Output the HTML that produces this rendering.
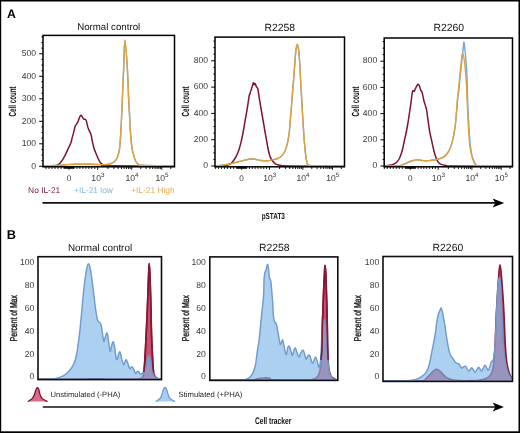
<!DOCTYPE html>
<html><head><meta charset="utf-8"><style>
html,body{margin:0;padding:0;background:#fff;}
body{width:520px;height:433px;overflow:hidden;position:relative;font-family:"Liberation Sans",sans-serif;}
svg{will-change:transform;}
</style></head><body>
<svg width="520" height="433" viewBox="0 0 520 433" style="position:absolute;left:0;top:0" text-rendering="geometricPrecision">
<rect x="0" y="0" width="1.2" height="433" fill="#000"/>
<rect x="0" y="0" width="520" height="1.5" fill="#000"/>
<rect x="518.5" y="0" width="1.5" height="433" fill="#000"/>
<rect x="0" y="431.3" width="520" height="1.7" fill="#000"/>
<text x="6.9" y="17.6" font-family='"Liberation Sans", sans-serif' font-size="12.3" fill="#000" text-anchor="start" font-weight="bold" >A</text>
<text x="6.7" y="239.0" font-family='"Liberation Sans", sans-serif' font-size="12.8" fill="#000" text-anchor="start" font-weight="bold" >B</text>
<text x="108.7" y="29.9" font-family='"Liberation Sans", sans-serif' font-size="9.7" fill="#111" text-anchor="middle" font-weight="normal" >Normal control</text>
<line x1="39.2" y1="166.30" x2="43" y2="166.30" stroke="#000" stroke-width="1"/>
<text x="36.0" y="168.5" font-family='"Liberation Sans", sans-serif' font-size="8.6" fill="#3a3a3a" text-anchor="end" font-weight="normal" >0</text>
<line x1="41.4" y1="160.68" x2="43" y2="160.68" stroke="#000" stroke-width="1"/>
<line x1="41.4" y1="155.05" x2="43" y2="155.05" stroke="#000" stroke-width="1"/>
<line x1="41.4" y1="149.43" x2="43" y2="149.43" stroke="#000" stroke-width="1"/>
<line x1="39.2" y1="143.80" x2="43" y2="143.80" stroke="#000" stroke-width="1"/>
<text x="36.0" y="146.0" font-family='"Liberation Sans", sans-serif' font-size="8.6" fill="#3a3a3a" text-anchor="end" font-weight="normal" >100</text>
<line x1="41.4" y1="138.18" x2="43" y2="138.18" stroke="#000" stroke-width="1"/>
<line x1="41.4" y1="132.55" x2="43" y2="132.55" stroke="#000" stroke-width="1"/>
<line x1="41.4" y1="126.93" x2="43" y2="126.93" stroke="#000" stroke-width="1"/>
<line x1="39.2" y1="121.30" x2="43" y2="121.30" stroke="#000" stroke-width="1"/>
<text x="36.0" y="123.50000000000001" font-family='"Liberation Sans", sans-serif' font-size="8.6" fill="#3a3a3a" text-anchor="end" font-weight="normal" >200</text>
<line x1="41.4" y1="115.68" x2="43" y2="115.68" stroke="#000" stroke-width="1"/>
<line x1="41.4" y1="110.05" x2="43" y2="110.05" stroke="#000" stroke-width="1"/>
<line x1="41.4" y1="104.43" x2="43" y2="104.43" stroke="#000" stroke-width="1"/>
<line x1="39.2" y1="98.80" x2="43" y2="98.80" stroke="#000" stroke-width="1"/>
<text x="36.0" y="101.00000000000001" font-family='"Liberation Sans", sans-serif' font-size="8.6" fill="#3a3a3a" text-anchor="end" font-weight="normal" >300</text>
<line x1="41.4" y1="93.18" x2="43" y2="93.18" stroke="#000" stroke-width="1"/>
<line x1="41.4" y1="87.55" x2="43" y2="87.55" stroke="#000" stroke-width="1"/>
<line x1="41.4" y1="81.93" x2="43" y2="81.93" stroke="#000" stroke-width="1"/>
<line x1="39.2" y1="76.30" x2="43" y2="76.30" stroke="#000" stroke-width="1"/>
<text x="36.0" y="78.50000000000001" font-family='"Liberation Sans", sans-serif' font-size="8.6" fill="#3a3a3a" text-anchor="end" font-weight="normal" >400</text>
<line x1="41.4" y1="70.68" x2="43" y2="70.68" stroke="#000" stroke-width="1"/>
<line x1="41.4" y1="65.05" x2="43" y2="65.05" stroke="#000" stroke-width="1"/>
<line x1="41.4" y1="59.43" x2="43" y2="59.43" stroke="#000" stroke-width="1"/>
<line x1="39.2" y1="53.80" x2="43" y2="53.80" stroke="#000" stroke-width="1"/>
<text x="36.0" y="56.000000000000014" font-family='"Liberation Sans", sans-serif' font-size="8.6" fill="#3a3a3a" text-anchor="end" font-weight="normal" >500</text>
<line x1="41.4" y1="48.18" x2="43" y2="48.18" stroke="#000" stroke-width="1"/>
<line x1="41.4" y1="42.55" x2="43" y2="42.55" stroke="#000" stroke-width="1"/>
<line x1="41.4" y1="36.93" x2="43" y2="36.93" stroke="#000" stroke-width="1"/>
<g transform="translate(12.2,101.4) rotate(-90) scale(0.6,1)"><text x="0" y="3.64" font-family='"Liberation Sans", sans-serif' font-size="10.4" fill="#111" text-anchor="middle" font-weight="bold">Cell count</text></g>
<line x1="61.00" y1="166.8" x2="61.00" y2="169.00" stroke="#000" stroke-width="0.9"/>
<line x1="58.00" y1="166.8" x2="58.00" y2="169.00" stroke="#000" stroke-width="0.9"/>
<line x1="55.00" y1="166.8" x2="55.00" y2="169.00" stroke="#000" stroke-width="0.9"/>
<line x1="52.00" y1="166.8" x2="52.00" y2="169.00" stroke="#000" stroke-width="0.9"/>
<line x1="49.00" y1="166.8" x2="49.00" y2="169.00" stroke="#000" stroke-width="0.9"/>
<line x1="46.00" y1="166.8" x2="46.00" y2="169.00" stroke="#000" stroke-width="0.9"/>
<line x1="69.00" y1="166.8" x2="69.00" y2="169.80" stroke="#000" stroke-width="0.9"/>
<line x1="76.96" y1="166.8" x2="76.96" y2="169.00" stroke="#000" stroke-width="0.9"/>
<line x1="79.92" y1="166.8" x2="79.92" y2="169.00" stroke="#000" stroke-width="0.9"/>
<line x1="82.89" y1="166.8" x2="82.89" y2="169.00" stroke="#000" stroke-width="0.9"/>
<line x1="85.85" y1="166.8" x2="85.85" y2="169.00" stroke="#000" stroke-width="0.9"/>
<line x1="88.81" y1="166.8" x2="88.81" y2="169.00" stroke="#000" stroke-width="0.9"/>
<line x1="91.78" y1="166.8" x2="91.78" y2="169.00" stroke="#000" stroke-width="0.9"/>
<line x1="94.74" y1="166.8" x2="94.74" y2="169.00" stroke="#000" stroke-width="0.9"/>
<line x1="97.70" y1="166.8" x2="97.70" y2="169.80" stroke="#000" stroke-width="0.9"/>
<line x1="107.95" y1="166.8" x2="107.95" y2="169.00" stroke="#000" stroke-width="0.9"/>
<line x1="113.95" y1="166.8" x2="113.95" y2="169.00" stroke="#000" stroke-width="0.9"/>
<line x1="118.20" y1="166.8" x2="118.20" y2="169.00" stroke="#000" stroke-width="0.9"/>
<line x1="121.50" y1="166.8" x2="121.50" y2="169.00" stroke="#000" stroke-width="0.9"/>
<line x1="124.20" y1="166.8" x2="124.20" y2="169.00" stroke="#000" stroke-width="0.9"/>
<line x1="126.48" y1="166.8" x2="126.48" y2="169.00" stroke="#000" stroke-width="0.9"/>
<line x1="128.45" y1="166.8" x2="128.45" y2="169.00" stroke="#000" stroke-width="0.9"/>
<line x1="130.19" y1="166.8" x2="130.19" y2="169.00" stroke="#000" stroke-width="0.9"/>
<line x1="131.75" y1="166.8" x2="131.75" y2="169.80" stroke="#000" stroke-width="0.9"/>
<line x1="140.78" y1="166.8" x2="140.78" y2="169.00" stroke="#000" stroke-width="0.9"/>
<line x1="146.06" y1="166.8" x2="146.06" y2="169.00" stroke="#000" stroke-width="0.9"/>
<line x1="149.81" y1="166.8" x2="149.81" y2="169.00" stroke="#000" stroke-width="0.9"/>
<line x1="152.72" y1="166.8" x2="152.72" y2="169.00" stroke="#000" stroke-width="0.9"/>
<line x1="155.09" y1="166.8" x2="155.09" y2="169.00" stroke="#000" stroke-width="0.9"/>
<line x1="157.10" y1="166.8" x2="157.10" y2="169.00" stroke="#000" stroke-width="0.9"/>
<line x1="158.84" y1="166.8" x2="158.84" y2="169.00" stroke="#000" stroke-width="0.9"/>
<line x1="160.38" y1="166.8" x2="160.38" y2="169.00" stroke="#000" stroke-width="0.9"/>
<line x1="161.75" y1="166.8" x2="161.75" y2="169.80" stroke="#000" stroke-width="0.9"/>
<line x1="170.78" y1="166.8" x2="170.78" y2="169.00" stroke="#000" stroke-width="0.9"/>
<rect x="63.50" y="166.8" width="11" height="2.0" fill="#111"/>
<text x="69" y="180.6" font-family='"Liberation Sans", sans-serif' font-size="8.2" fill="#3a3a3a" text-anchor="middle" font-weight="normal" >0</text>
<text x="97.90" y="180.6" font-family='"Liberation Sans", sans-serif' font-size="8.6" fill="#3a3a3a" text-anchor="middle">10<tspan dy="-3.4" font-size="6.3">3</tspan></text>
<text x="131.95" y="180.6" font-family='"Liberation Sans", sans-serif' font-size="8.6" fill="#3a3a3a" text-anchor="middle">10<tspan dy="-3.4" font-size="6.3">4</tspan></text>
<text x="161.95" y="180.6" font-family='"Liberation Sans", sans-serif' font-size="8.6" fill="#3a3a3a" text-anchor="middle">10<tspan dy="-3.4" font-size="6.3">5</tspan></text>
<text x="279.7" y="31.3" font-family='"Liberation Sans", sans-serif' font-size="10.4" fill="#111" text-anchor="middle" font-weight="normal" >R2258</text>
<line x1="211.2" y1="166.00" x2="215" y2="166.00" stroke="#000" stroke-width="1"/>
<text x="208.0" y="168.2" font-family='"Liberation Sans", sans-serif' font-size="8.6" fill="#3a3a3a" text-anchor="end" font-weight="normal" >0</text>
<line x1="213.4" y1="159.43" x2="215" y2="159.43" stroke="#000" stroke-width="1"/>
<line x1="213.4" y1="152.85" x2="215" y2="152.85" stroke="#000" stroke-width="1"/>
<line x1="213.4" y1="146.28" x2="215" y2="146.28" stroke="#000" stroke-width="1"/>
<line x1="211.2" y1="139.70" x2="215" y2="139.70" stroke="#000" stroke-width="1"/>
<text x="208.0" y="141.89999999999998" font-family='"Liberation Sans", sans-serif' font-size="8.6" fill="#3a3a3a" text-anchor="end" font-weight="normal" >200</text>
<line x1="213.4" y1="133.12" x2="215" y2="133.12" stroke="#000" stroke-width="1"/>
<line x1="213.4" y1="126.55" x2="215" y2="126.55" stroke="#000" stroke-width="1"/>
<line x1="213.4" y1="119.97" x2="215" y2="119.97" stroke="#000" stroke-width="1"/>
<line x1="211.2" y1="113.40" x2="215" y2="113.40" stroke="#000" stroke-width="1"/>
<text x="208.0" y="115.60000000000001" font-family='"Liberation Sans", sans-serif' font-size="8.6" fill="#3a3a3a" text-anchor="end" font-weight="normal" >400</text>
<line x1="213.4" y1="106.82" x2="215" y2="106.82" stroke="#000" stroke-width="1"/>
<line x1="213.4" y1="100.25" x2="215" y2="100.25" stroke="#000" stroke-width="1"/>
<line x1="213.4" y1="93.67" x2="215" y2="93.67" stroke="#000" stroke-width="1"/>
<line x1="211.2" y1="87.10" x2="215" y2="87.10" stroke="#000" stroke-width="1"/>
<text x="208.0" y="89.3" font-family='"Liberation Sans", sans-serif' font-size="8.6" fill="#3a3a3a" text-anchor="end" font-weight="normal" >600</text>
<line x1="213.4" y1="80.52" x2="215" y2="80.52" stroke="#000" stroke-width="1"/>
<line x1="213.4" y1="73.95" x2="215" y2="73.95" stroke="#000" stroke-width="1"/>
<line x1="213.4" y1="67.38" x2="215" y2="67.38" stroke="#000" stroke-width="1"/>
<line x1="211.2" y1="60.80" x2="215" y2="60.80" stroke="#000" stroke-width="1"/>
<text x="208.0" y="63.0" font-family='"Liberation Sans", sans-serif' font-size="8.6" fill="#3a3a3a" text-anchor="end" font-weight="normal" >800</text>
<line x1="213.4" y1="54.22" x2="215" y2="54.22" stroke="#000" stroke-width="1"/>
<line x1="213.4" y1="47.65" x2="215" y2="47.65" stroke="#000" stroke-width="1"/>
<line x1="213.4" y1="41.07" x2="215" y2="41.07" stroke="#000" stroke-width="1"/>
<g transform="translate(185.8,101.4) rotate(-90) scale(0.6,1)"><text x="0" y="3.64" font-family='"Liberation Sans", sans-serif' font-size="10.4" fill="#111" text-anchor="middle" font-weight="bold">Cell count</text></g>
<line x1="233.60" y1="166.8" x2="233.60" y2="169.00" stroke="#000" stroke-width="0.9"/>
<line x1="230.60" y1="166.8" x2="230.60" y2="169.00" stroke="#000" stroke-width="0.9"/>
<line x1="227.60" y1="166.8" x2="227.60" y2="169.00" stroke="#000" stroke-width="0.9"/>
<line x1="224.60" y1="166.8" x2="224.60" y2="169.00" stroke="#000" stroke-width="0.9"/>
<line x1="221.60" y1="166.8" x2="221.60" y2="169.00" stroke="#000" stroke-width="0.9"/>
<line x1="218.60" y1="166.8" x2="218.60" y2="169.00" stroke="#000" stroke-width="0.9"/>
<line x1="215.60" y1="166.8" x2="215.60" y2="169.00" stroke="#000" stroke-width="0.9"/>
<line x1="241.60" y1="166.8" x2="241.60" y2="169.80" stroke="#000" stroke-width="0.9"/>
<line x1="249.46" y1="166.8" x2="249.46" y2="169.00" stroke="#000" stroke-width="0.9"/>
<line x1="252.32" y1="166.8" x2="252.32" y2="169.00" stroke="#000" stroke-width="0.9"/>
<line x1="255.19" y1="166.8" x2="255.19" y2="169.00" stroke="#000" stroke-width="0.9"/>
<line x1="258.05" y1="166.8" x2="258.05" y2="169.00" stroke="#000" stroke-width="0.9"/>
<line x1="260.91" y1="166.8" x2="260.91" y2="169.00" stroke="#000" stroke-width="0.9"/>
<line x1="263.77" y1="166.8" x2="263.77" y2="169.00" stroke="#000" stroke-width="0.9"/>
<line x1="266.64" y1="166.8" x2="266.64" y2="169.00" stroke="#000" stroke-width="0.9"/>
<line x1="269.50" y1="166.8" x2="269.50" y2="169.80" stroke="#000" stroke-width="0.9"/>
<line x1="279.55" y1="166.8" x2="279.55" y2="169.00" stroke="#000" stroke-width="0.9"/>
<line x1="285.44" y1="166.8" x2="285.44" y2="169.00" stroke="#000" stroke-width="0.9"/>
<line x1="289.61" y1="166.8" x2="289.61" y2="169.00" stroke="#000" stroke-width="0.9"/>
<line x1="292.85" y1="166.8" x2="292.85" y2="169.00" stroke="#000" stroke-width="0.9"/>
<line x1="295.49" y1="166.8" x2="295.49" y2="169.00" stroke="#000" stroke-width="0.9"/>
<line x1="297.73" y1="166.8" x2="297.73" y2="169.00" stroke="#000" stroke-width="0.9"/>
<line x1="299.66" y1="166.8" x2="299.66" y2="169.00" stroke="#000" stroke-width="0.9"/>
<line x1="301.37" y1="166.8" x2="301.37" y2="169.00" stroke="#000" stroke-width="0.9"/>
<line x1="302.90" y1="166.8" x2="302.90" y2="169.80" stroke="#000" stroke-width="0.9"/>
<line x1="311.81" y1="166.8" x2="311.81" y2="169.00" stroke="#000" stroke-width="0.9"/>
<line x1="317.02" y1="166.8" x2="317.02" y2="169.00" stroke="#000" stroke-width="0.9"/>
<line x1="320.72" y1="166.8" x2="320.72" y2="169.00" stroke="#000" stroke-width="0.9"/>
<line x1="323.59" y1="166.8" x2="323.59" y2="169.00" stroke="#000" stroke-width="0.9"/>
<line x1="325.93" y1="166.8" x2="325.93" y2="169.00" stroke="#000" stroke-width="0.9"/>
<line x1="327.91" y1="166.8" x2="327.91" y2="169.00" stroke="#000" stroke-width="0.9"/>
<line x1="329.63" y1="166.8" x2="329.63" y2="169.00" stroke="#000" stroke-width="0.9"/>
<line x1="331.15" y1="166.8" x2="331.15" y2="169.00" stroke="#000" stroke-width="0.9"/>
<line x1="332.50" y1="166.8" x2="332.50" y2="169.80" stroke="#000" stroke-width="0.9"/>
<line x1="341.41" y1="166.8" x2="341.41" y2="169.00" stroke="#000" stroke-width="0.9"/>
<rect x="236.10" y="166.8" width="11" height="2.0" fill="#111"/>
<text x="241.6" y="180.6" font-family='"Liberation Sans", sans-serif' font-size="8.2" fill="#3a3a3a" text-anchor="middle" font-weight="normal" >0</text>
<text x="269.70" y="180.6" font-family='"Liberation Sans", sans-serif' font-size="8.6" fill="#3a3a3a" text-anchor="middle">10<tspan dy="-3.4" font-size="6.3">3</tspan></text>
<text x="303.10" y="180.6" font-family='"Liberation Sans", sans-serif' font-size="8.6" fill="#3a3a3a" text-anchor="middle">10<tspan dy="-3.4" font-size="6.3">4</tspan></text>
<text x="332.70" y="180.6" font-family='"Liberation Sans", sans-serif' font-size="8.6" fill="#3a3a3a" text-anchor="middle">10<tspan dy="-3.4" font-size="6.3">5</tspan></text>
<text x="448.7" y="31.3" font-family='"Liberation Sans", sans-serif' font-size="10.4" fill="#111" text-anchor="middle" font-weight="normal" >R2260</text>
<line x1="380.4" y1="166.00" x2="384.2" y2="166.00" stroke="#000" stroke-width="1"/>
<text x="377.2" y="168.2" font-family='"Liberation Sans", sans-serif' font-size="8.6" fill="#3a3a3a" text-anchor="end" font-weight="normal" >0</text>
<line x1="382.59999999999997" y1="159.45" x2="384.2" y2="159.45" stroke="#000" stroke-width="1"/>
<line x1="382.59999999999997" y1="152.90" x2="384.2" y2="152.90" stroke="#000" stroke-width="1"/>
<line x1="382.59999999999997" y1="146.35" x2="384.2" y2="146.35" stroke="#000" stroke-width="1"/>
<line x1="380.4" y1="139.80" x2="384.2" y2="139.80" stroke="#000" stroke-width="1"/>
<text x="377.2" y="142.0" font-family='"Liberation Sans", sans-serif' font-size="8.6" fill="#3a3a3a" text-anchor="end" font-weight="normal" >200</text>
<line x1="382.59999999999997" y1="133.25" x2="384.2" y2="133.25" stroke="#000" stroke-width="1"/>
<line x1="382.59999999999997" y1="126.70" x2="384.2" y2="126.70" stroke="#000" stroke-width="1"/>
<line x1="382.59999999999997" y1="120.15" x2="384.2" y2="120.15" stroke="#000" stroke-width="1"/>
<line x1="380.4" y1="113.60" x2="384.2" y2="113.60" stroke="#000" stroke-width="1"/>
<text x="377.2" y="115.8" font-family='"Liberation Sans", sans-serif' font-size="8.6" fill="#3a3a3a" text-anchor="end" font-weight="normal" >400</text>
<line x1="382.59999999999997" y1="107.05" x2="384.2" y2="107.05" stroke="#000" stroke-width="1"/>
<line x1="382.59999999999997" y1="100.50" x2="384.2" y2="100.50" stroke="#000" stroke-width="1"/>
<line x1="382.59999999999997" y1="93.95" x2="384.2" y2="93.95" stroke="#000" stroke-width="1"/>
<line x1="380.4" y1="87.40" x2="384.2" y2="87.40" stroke="#000" stroke-width="1"/>
<text x="377.2" y="89.6" font-family='"Liberation Sans", sans-serif' font-size="8.6" fill="#3a3a3a" text-anchor="end" font-weight="normal" >600</text>
<line x1="382.59999999999997" y1="80.85" x2="384.2" y2="80.85" stroke="#000" stroke-width="1"/>
<line x1="382.59999999999997" y1="74.30" x2="384.2" y2="74.30" stroke="#000" stroke-width="1"/>
<line x1="382.59999999999997" y1="67.75" x2="384.2" y2="67.75" stroke="#000" stroke-width="1"/>
<line x1="380.4" y1="61.20" x2="384.2" y2="61.20" stroke="#000" stroke-width="1"/>
<text x="377.2" y="63.39999999999999" font-family='"Liberation Sans", sans-serif' font-size="8.6" fill="#3a3a3a" text-anchor="end" font-weight="normal" >800</text>
<line x1="382.59999999999997" y1="54.65" x2="384.2" y2="54.65" stroke="#000" stroke-width="1"/>
<line x1="382.59999999999997" y1="48.10" x2="384.2" y2="48.10" stroke="#000" stroke-width="1"/>
<line x1="382.59999999999997" y1="41.55" x2="384.2" y2="41.55" stroke="#000" stroke-width="1"/>
<g transform="translate(355.0,101.4) rotate(-90) scale(0.6,1)"><text x="0" y="3.64" font-family='"Liberation Sans", sans-serif' font-size="10.4" fill="#111" text-anchor="middle" font-weight="bold">Cell count</text></g>
<line x1="402.30" y1="166.8" x2="402.30" y2="169.00" stroke="#000" stroke-width="0.9"/>
<line x1="399.30" y1="166.8" x2="399.30" y2="169.00" stroke="#000" stroke-width="0.9"/>
<line x1="396.30" y1="166.8" x2="396.30" y2="169.00" stroke="#000" stroke-width="0.9"/>
<line x1="393.30" y1="166.8" x2="393.30" y2="169.00" stroke="#000" stroke-width="0.9"/>
<line x1="390.30" y1="166.8" x2="390.30" y2="169.00" stroke="#000" stroke-width="0.9"/>
<line x1="387.30" y1="166.8" x2="387.30" y2="169.00" stroke="#000" stroke-width="0.9"/>
<line x1="384.30" y1="166.8" x2="384.30" y2="169.00" stroke="#000" stroke-width="0.9"/>
<line x1="410.30" y1="166.8" x2="410.30" y2="169.80" stroke="#000" stroke-width="0.9"/>
<line x1="418.16" y1="166.8" x2="418.16" y2="169.00" stroke="#000" stroke-width="0.9"/>
<line x1="421.02" y1="166.8" x2="421.02" y2="169.00" stroke="#000" stroke-width="0.9"/>
<line x1="423.89" y1="166.8" x2="423.89" y2="169.00" stroke="#000" stroke-width="0.9"/>
<line x1="426.75" y1="166.8" x2="426.75" y2="169.00" stroke="#000" stroke-width="0.9"/>
<line x1="429.61" y1="166.8" x2="429.61" y2="169.00" stroke="#000" stroke-width="0.9"/>
<line x1="432.48" y1="166.8" x2="432.48" y2="169.00" stroke="#000" stroke-width="0.9"/>
<line x1="435.34" y1="166.8" x2="435.34" y2="169.00" stroke="#000" stroke-width="0.9"/>
<line x1="438.20" y1="166.8" x2="438.20" y2="169.80" stroke="#000" stroke-width="0.9"/>
<line x1="448.34" y1="166.8" x2="448.34" y2="169.00" stroke="#000" stroke-width="0.9"/>
<line x1="454.28" y1="166.8" x2="454.28" y2="169.00" stroke="#000" stroke-width="0.9"/>
<line x1="458.49" y1="166.8" x2="458.49" y2="169.00" stroke="#000" stroke-width="0.9"/>
<line x1="461.76" y1="166.8" x2="461.76" y2="169.00" stroke="#000" stroke-width="0.9"/>
<line x1="464.42" y1="166.8" x2="464.42" y2="169.00" stroke="#000" stroke-width="0.9"/>
<line x1="466.68" y1="166.8" x2="466.68" y2="169.00" stroke="#000" stroke-width="0.9"/>
<line x1="468.63" y1="166.8" x2="468.63" y2="169.00" stroke="#000" stroke-width="0.9"/>
<line x1="470.36" y1="166.8" x2="470.36" y2="169.00" stroke="#000" stroke-width="0.9"/>
<line x1="471.90" y1="166.8" x2="471.90" y2="169.80" stroke="#000" stroke-width="0.9"/>
<line x1="480.72" y1="166.8" x2="480.72" y2="169.00" stroke="#000" stroke-width="0.9"/>
<line x1="485.88" y1="166.8" x2="485.88" y2="169.00" stroke="#000" stroke-width="0.9"/>
<line x1="489.54" y1="166.8" x2="489.54" y2="169.00" stroke="#000" stroke-width="0.9"/>
<line x1="492.38" y1="166.8" x2="492.38" y2="169.00" stroke="#000" stroke-width="0.9"/>
<line x1="494.70" y1="166.8" x2="494.70" y2="169.00" stroke="#000" stroke-width="0.9"/>
<line x1="496.66" y1="166.8" x2="496.66" y2="169.00" stroke="#000" stroke-width="0.9"/>
<line x1="498.36" y1="166.8" x2="498.36" y2="169.00" stroke="#000" stroke-width="0.9"/>
<line x1="499.86" y1="166.8" x2="499.86" y2="169.00" stroke="#000" stroke-width="0.9"/>
<line x1="501.20" y1="166.8" x2="501.20" y2="169.80" stroke="#000" stroke-width="0.9"/>
<line x1="510.02" y1="166.8" x2="510.02" y2="169.00" stroke="#000" stroke-width="0.9"/>
<rect x="404.80" y="166.8" width="11" height="2.0" fill="#111"/>
<text x="410.3" y="180.6" font-family='"Liberation Sans", sans-serif' font-size="8.2" fill="#3a3a3a" text-anchor="middle" font-weight="normal" >0</text>
<text x="438.40" y="180.6" font-family='"Liberation Sans", sans-serif' font-size="8.6" fill="#3a3a3a" text-anchor="middle">10<tspan dy="-3.4" font-size="6.3">3</tspan></text>
<text x="472.10" y="180.6" font-family='"Liberation Sans", sans-serif' font-size="8.6" fill="#3a3a3a" text-anchor="middle">10<tspan dy="-3.4" font-size="6.3">4</tspan></text>
<text x="501.40" y="180.6" font-family='"Liberation Sans", sans-serif' font-size="8.6" fill="#3a3a3a" text-anchor="middle">10<tspan dy="-3.4" font-size="6.3">5</tspan></text>
<path d="M43.50 166.00 C45.42 165.92 51.42 165.70 55.00 165.50 C58.58 165.30 61.67 165.00 65.00 164.80 C68.33 164.60 70.83 164.38 75.00 164.30 C79.17 164.22 85.83 164.25 90.00 164.30 C94.17 164.35 97.33 164.55 100.00 164.60 C102.67 164.65 104.35 164.70 106.00 164.60 C107.65 164.50 108.45 164.52 109.90 164.00 C111.35 163.48 113.42 162.72 114.70 161.50 C115.98 160.28 116.78 158.85 117.60 156.70 C118.42 154.55 119.07 152.65 119.60 148.60 C120.13 144.55 120.47 137.80 120.80 132.40 C121.13 127.00 121.35 121.60 121.60 116.20 C121.85 110.80 121.95 108.13 122.30 100.00 C122.65 91.87 123.27 77.37 123.70 67.40 C124.13 57.43 124.30 40.20 124.90 40.20 C125.50 40.20 126.67 57.43 127.30 67.40 C127.93 77.37 128.32 91.87 128.70 100.00 C129.08 108.13 129.30 110.80 129.60 116.20 C129.90 121.60 130.08 127.00 130.50 132.40 C130.92 137.80 131.50 144.55 132.10 148.60 C132.70 152.65 133.48 154.55 134.10 156.70 C134.72 158.85 135.12 160.28 135.80 161.50 C136.48 162.72 137.17 163.37 138.20 164.00 C139.23 164.63 136.03 164.97 142.00 165.30 C147.97 165.63 168.67 165.88 174.00 166.00" fill="none" stroke="#6fa6dc" stroke-width="1.4" stroke-linejoin="round"/>
<path d="M215.50 166.00 C217.47 165.75 223.28 165.27 227.30 164.50 C231.32 163.73 236.02 162.28 239.60 161.40 C243.18 160.52 246.23 159.57 248.80 159.20 C251.37 158.83 252.95 158.98 255.00 159.20 C257.05 159.42 259.07 160.23 261.10 160.50 C263.13 160.77 265.35 160.90 267.20 160.80 C269.05 160.70 270.62 160.23 272.20 159.90 C273.78 159.57 275.22 159.35 276.70 158.80 C278.18 158.25 279.72 157.90 281.10 156.60 C282.48 155.30 283.90 153.40 285.00 151.00 C286.10 148.60 286.97 145.52 287.70 142.20 C288.43 138.88 288.97 134.77 289.40 131.10 C289.83 127.43 289.95 124.40 290.30 120.20 C290.65 116.00 291.12 110.67 291.50 105.90 C291.88 101.13 292.22 96.38 292.60 91.60 C292.98 86.82 293.42 81.98 293.80 77.20 C294.18 72.42 294.58 67.10 294.90 62.90 C295.22 58.70 295.43 54.65 295.70 52.00 C295.97 49.35 296.23 48.28 296.50 47.00 C296.77 45.72 297.03 44.30 297.30 44.30 C297.57 44.30 297.83 45.72 298.10 47.00 C298.37 48.28 298.62 49.00 298.90 52.00 C299.18 55.00 299.52 60.33 299.80 65.00 C300.08 69.67 300.32 75.00 300.60 80.00 C300.88 85.00 301.22 90.00 301.50 95.00 C301.78 100.00 302.07 105.83 302.30 110.00 C302.53 114.17 302.68 116.50 302.90 120.00 C303.12 123.50 303.35 127.30 303.60 131.00 C303.85 134.70 304.08 138.48 304.40 142.20 C304.72 145.92 305.13 150.17 305.50 153.30 C305.87 156.43 306.23 159.17 306.60 161.00 C306.97 162.83 307.13 163.55 307.70 164.30 C308.27 165.05 308.62 165.22 310.00 165.50 C311.38 165.78 310.33 165.92 316.00 166.00 C321.67 166.08 339.33 166.00 344.00 166.00" fill="none" stroke="#6fa6dc" stroke-width="1.4" stroke-linejoin="round"/>
<path d="M384.50 166.00 C385.75 166.00 389.42 166.07 392.00 166.00 C394.58 165.93 397.70 166.02 400.00 165.60 C402.30 165.18 403.88 164.27 405.80 163.50 C407.72 162.73 409.58 161.60 411.50 161.00 C413.42 160.40 415.37 159.97 417.30 159.90 C419.23 159.83 421.18 160.48 423.10 160.60 C425.02 160.72 426.88 160.70 428.80 160.60 C430.72 160.50 432.73 160.33 434.60 160.00 C436.47 159.67 438.35 159.20 440.00 158.60 C441.65 158.00 443.12 157.52 444.50 156.40 C445.88 155.28 447.17 153.78 448.30 151.90 C449.43 150.02 450.43 147.73 451.30 145.10 C452.17 142.47 452.87 139.10 453.50 136.10 C454.13 133.10 454.62 130.62 455.10 127.10 C455.58 123.58 455.98 119.52 456.40 115.00 C456.82 110.48 457.22 103.90 457.60 100.00 C457.98 96.10 458.28 95.40 458.70 91.60 C459.12 87.80 459.62 81.98 460.10 77.20 C460.58 72.42 461.12 67.43 461.60 62.90 C462.08 58.37 462.60 53.43 463.00 50.00 C463.40 46.57 463.60 41.58 464.00 42.30 C464.40 43.02 464.92 48.95 465.40 54.30 C465.88 59.65 466.53 66.78 466.90 74.40 C467.27 82.02 467.37 93.23 467.60 100.00 C467.83 106.77 468.05 110.00 468.30 115.00 C468.55 120.00 468.77 124.98 469.10 130.00 C469.43 135.02 469.82 140.83 470.30 145.10 C470.78 149.37 471.35 152.83 472.00 155.60 C472.65 158.37 473.45 160.13 474.20 161.70 C474.95 163.27 475.37 164.28 476.50 165.00 C477.63 165.72 475.08 165.83 481.00 166.00 C486.92 166.17 506.83 166.00 512.00 166.00" fill="none" stroke="#6fa6dc" stroke-width="1.4" stroke-linejoin="round"/>
<path d="M50.00 166.20 C51.12 166.08 54.90 166.17 56.70 165.50 C58.50 164.83 59.45 163.82 60.80 162.20 C62.15 160.58 63.52 158.17 64.80 155.80 C66.08 153.43 67.50 150.12 68.50 148.00 C69.50 145.88 70.18 144.83 70.80 143.10 C71.42 141.37 71.67 139.60 72.20 137.60 C72.73 135.60 73.55 132.88 74.00 131.10 C74.45 129.32 74.58 127.90 74.90 126.90 C75.22 125.90 75.52 125.72 75.90 125.10 C76.28 124.48 76.75 124.05 77.20 123.20 C77.65 122.35 78.05 121.30 78.60 120.00 C79.15 118.70 79.95 116.02 80.50 115.40 C81.05 114.78 81.37 115.68 81.90 116.30 C82.43 116.92 83.08 118.57 83.70 119.10 C84.32 119.63 85.13 119.12 85.60 119.50 C86.07 119.88 86.12 120.08 86.50 121.40 C86.88 122.72 87.37 125.70 87.90 127.40 C88.43 129.10 89.17 130.37 89.70 131.60 C90.23 132.83 90.63 133.03 91.10 134.80 C91.57 136.57 92.03 140.00 92.50 142.20 C92.97 144.40 93.38 146.28 93.90 148.00 C94.42 149.72 94.92 150.80 95.60 152.50 C96.28 154.20 97.20 156.50 98.00 158.20 C98.80 159.90 99.57 161.62 100.40 162.70 C101.23 163.78 101.73 164.18 103.00 164.70 C104.27 165.22 96.17 165.55 108.00 165.80 C119.83 166.05 163.00 166.13 174.00 166.20" fill="none" stroke="#7e1337" stroke-width="1.5" stroke-linejoin="round"/>
<path d="M222.00 166.20 C223.00 166.00 226.42 165.53 228.00 165.00 C229.58 164.47 230.33 164.08 231.50 163.00 C232.67 161.92 234.00 160.08 235.00 158.50 C236.00 156.92 236.75 155.25 237.50 153.50 C238.25 151.75 238.87 150.08 239.50 148.00 C240.13 145.92 240.78 143.17 241.30 141.00 C241.82 138.83 242.23 136.83 242.60 135.00 C242.97 133.17 243.07 132.50 243.50 130.00 C243.93 127.50 244.62 123.33 245.20 120.00 C245.78 116.67 246.50 112.93 247.00 110.00 C247.50 107.07 247.83 104.78 248.20 102.40 C248.57 100.02 248.92 97.12 249.20 95.70 C249.48 94.28 249.62 94.75 249.90 93.90 C250.18 93.05 250.57 91.65 250.90 90.60 C251.23 89.55 251.48 88.90 251.90 87.60 C252.32 86.30 253.03 83.28 253.40 82.80 C253.77 82.32 253.82 84.58 254.10 84.70 C254.38 84.82 254.73 83.20 255.10 83.50 C255.47 83.80 255.85 85.63 256.30 86.50 C256.75 87.37 257.43 87.65 257.80 88.70 C258.17 89.75 258.20 90.88 258.50 92.80 C258.80 94.72 259.13 97.33 259.60 100.20 C260.07 103.07 260.73 106.70 261.30 110.00 C261.87 113.30 262.43 116.67 263.00 120.00 C263.57 123.33 264.12 126.67 264.70 130.00 C265.28 133.33 265.90 136.67 266.50 140.00 C267.10 143.33 267.72 147.25 268.30 150.00 C268.88 152.75 269.30 154.67 270.00 156.50 C270.70 158.33 271.58 159.78 272.50 161.00 C273.42 162.22 274.25 163.08 275.50 163.80 C276.75 164.52 277.58 164.93 280.00 165.30 C282.42 165.67 279.33 165.85 290.00 166.00 C300.67 166.15 335.00 166.17 344.00 166.20" fill="none" stroke="#7e1337" stroke-width="1.5" stroke-linejoin="round"/>
<path d="M384.50 166.20 C384.75 166.15 385.23 166.05 386.00 165.90 C386.77 165.75 388.05 165.52 389.10 165.30 C390.15 165.08 391.23 164.95 392.30 164.60 C393.37 164.25 394.58 163.82 395.50 163.20 C396.42 162.58 397.10 161.82 397.80 160.90 C398.50 159.98 399.15 158.85 399.70 157.70 C400.25 156.55 400.65 155.28 401.10 154.00 C401.55 152.72 401.83 152.33 402.40 150.00 C402.97 147.67 403.78 143.33 404.50 140.00 C405.22 136.67 406.05 133.33 406.70 130.00 C407.35 126.67 407.87 123.33 408.40 120.00 C408.93 116.67 409.43 113.20 409.90 110.00 C410.37 106.80 410.83 103.48 411.20 100.80 C411.57 98.12 411.83 95.58 412.10 93.90 C412.37 92.22 412.45 91.12 412.80 90.70 C413.15 90.28 413.80 91.68 414.20 91.40 C414.60 91.12 414.85 89.75 415.20 89.00 C415.55 88.25 415.88 87.65 416.30 86.90 C416.72 86.15 417.23 84.78 417.70 84.50 C418.17 84.22 418.70 84.57 419.10 85.20 C419.50 85.83 419.82 87.43 420.10 88.30 C420.38 89.17 420.52 89.88 420.80 90.40 C421.08 90.92 421.45 90.48 421.80 91.40 C422.15 92.32 422.55 94.33 422.90 95.90 C423.25 97.47 423.57 99.47 423.90 100.80 C424.23 102.13 424.55 102.75 424.90 103.90 C425.25 105.05 425.72 106.68 426.00 107.70 C426.28 108.72 426.27 107.95 426.60 110.00 C426.93 112.05 427.53 116.67 428.00 120.00 C428.47 123.33 428.82 126.67 429.40 130.00 C429.98 133.33 430.78 136.67 431.50 140.00 C432.22 143.33 433.02 147.25 433.70 150.00 C434.38 152.75 434.97 154.67 435.60 156.50 C436.23 158.33 436.77 159.78 437.50 161.00 C438.23 162.22 438.57 163.03 440.00 163.80 C441.43 164.57 443.60 165.22 446.10 165.60 C448.60 165.98 444.02 166.00 455.00 166.10 C465.98 166.20 502.50 166.18 512.00 166.20" fill="none" stroke="#7e1337" stroke-width="1.5" stroke-linejoin="round"/>
<path d="M43.50 166.00 C45.42 165.92 51.42 165.70 55.00 165.50 C58.58 165.30 61.67 165.00 65.00 164.80 C68.33 164.60 70.83 164.38 75.00 164.30 C79.17 164.22 85.83 164.25 90.00 164.30 C94.17 164.35 97.33 164.55 100.00 164.60 C102.67 164.65 104.35 164.70 106.00 164.60 C107.65 164.50 108.45 164.52 109.90 164.00 C111.35 163.48 113.42 162.72 114.70 161.50 C115.98 160.28 116.78 158.85 117.60 156.70 C118.42 154.55 119.07 152.65 119.60 148.60 C120.13 144.55 120.47 137.80 120.80 132.40 C121.13 127.00 121.35 121.60 121.60 116.20 C121.85 110.80 121.95 108.13 122.30 100.00 C122.65 91.87 123.27 77.37 123.70 67.40 C124.13 57.43 124.30 40.20 124.90 40.20 C125.50 40.20 126.67 57.43 127.30 67.40 C127.93 77.37 128.32 91.87 128.70 100.00 C129.08 108.13 129.30 110.80 129.60 116.20 C129.90 121.60 130.08 127.00 130.50 132.40 C130.92 137.80 131.50 144.55 132.10 148.60 C132.70 152.65 133.48 154.55 134.10 156.70 C134.72 158.85 135.12 160.28 135.80 161.50 C136.48 162.72 137.17 163.37 138.20 164.00 C139.23 164.63 136.03 164.97 142.00 165.30 C147.97 165.63 168.67 165.88 174.00 166.00" fill="none" stroke="#e0a23c" stroke-width="1.4" stroke-linejoin="round"/>
<path d="M215.50 166.00 C217.47 165.75 223.28 165.27 227.30 164.50 C231.32 163.73 236.02 162.28 239.60 161.40 C243.18 160.52 246.23 159.57 248.80 159.20 C251.37 158.83 252.95 158.98 255.00 159.20 C257.05 159.42 259.07 160.23 261.10 160.50 C263.13 160.77 265.35 160.90 267.20 160.80 C269.05 160.70 270.62 160.23 272.20 159.90 C273.78 159.57 275.22 159.35 276.70 158.80 C278.18 158.25 279.72 157.90 281.10 156.60 C282.48 155.30 283.90 153.40 285.00 151.00 C286.10 148.60 286.97 145.52 287.70 142.20 C288.43 138.88 288.97 134.77 289.40 131.10 C289.83 127.43 289.95 124.40 290.30 120.20 C290.65 116.00 291.12 110.67 291.50 105.90 C291.88 101.13 292.22 96.38 292.60 91.60 C292.98 86.82 293.42 81.98 293.80 77.20 C294.18 72.42 294.58 67.10 294.90 62.90 C295.22 58.70 295.43 54.65 295.70 52.00 C295.97 49.35 296.23 48.28 296.50 47.00 C296.77 45.72 297.03 44.30 297.30 44.30 C297.57 44.30 297.83 45.72 298.10 47.00 C298.37 48.28 298.62 49.00 298.90 52.00 C299.18 55.00 299.52 60.33 299.80 65.00 C300.08 69.67 300.32 75.00 300.60 80.00 C300.88 85.00 301.22 90.00 301.50 95.00 C301.78 100.00 302.07 105.83 302.30 110.00 C302.53 114.17 302.68 116.50 302.90 120.00 C303.12 123.50 303.35 127.30 303.60 131.00 C303.85 134.70 304.08 138.48 304.40 142.20 C304.72 145.92 305.13 150.17 305.50 153.30 C305.87 156.43 306.23 159.17 306.60 161.00 C306.97 162.83 307.13 163.55 307.70 164.30 C308.27 165.05 308.62 165.22 310.00 165.50 C311.38 165.78 310.33 165.92 316.00 166.00 C321.67 166.08 339.33 166.00 344.00 166.00" fill="none" stroke="#e0a23c" stroke-width="1.4" stroke-linejoin="round"/>
<path d="M384.50 166.00 C385.75 166.00 389.42 166.07 392.00 166.00 C394.58 165.93 397.70 166.02 400.00 165.60 C402.30 165.18 403.88 164.27 405.80 163.50 C407.72 162.73 409.58 161.60 411.50 161.00 C413.42 160.40 415.37 159.97 417.30 159.90 C419.23 159.83 421.18 160.48 423.10 160.60 C425.02 160.72 426.88 160.70 428.80 160.60 C430.72 160.50 432.73 160.33 434.60 160.00 C436.47 159.67 438.35 159.20 440.00 158.60 C441.65 158.00 443.12 157.52 444.50 156.40 C445.88 155.28 447.17 153.78 448.30 151.90 C449.43 150.02 450.43 147.73 451.30 145.10 C452.17 142.47 452.88 139.10 453.50 136.10 C454.12 133.10 454.55 130.62 455.00 127.10 C455.45 123.58 455.82 119.52 456.20 115.00 C456.58 110.48 456.95 103.90 457.30 100.00 C457.65 96.10 457.90 95.40 458.30 91.60 C458.70 87.80 459.23 81.98 459.70 77.20 C460.17 72.42 460.62 66.95 461.10 62.90 C461.58 58.85 462.02 52.90 462.60 52.90 C463.18 52.90 463.98 57.88 464.60 62.90 C465.22 67.92 465.88 76.82 466.30 83.00 C466.72 89.18 466.85 94.67 467.10 100.00 C467.35 105.33 467.55 110.00 467.80 115.00 C468.05 120.00 468.27 124.98 468.60 130.00 C468.93 135.02 469.30 140.83 469.80 145.10 C470.30 149.37 470.93 152.83 471.60 155.60 C472.27 158.37 473.05 160.13 473.80 161.70 C474.55 163.27 474.90 164.28 476.10 165.00 C477.30 165.72 475.02 165.83 481.00 166.00 C486.98 166.17 506.83 166.00 512.00 166.00" fill="none" stroke="#e0a23c" stroke-width="1.4" stroke-linejoin="round"/>
<rect x="43" y="35.4" width="131.50" height="131.40" fill="none" stroke="#000" stroke-width="1.5"/>
<rect x="215" y="37.1" width="129.50" height="129.70" fill="none" stroke="#000" stroke-width="1.5"/>
<rect x="384.2" y="38" width="128.30" height="128.80" fill="none" stroke="#000" stroke-width="1.5"/>
<text x="28.1" y="193.1" font-family='"Liberation Sans", sans-serif' font-size="8.4" fill="#7c1238" text-anchor="start" font-weight="normal" >No IL-21</text>
<text x="74.0" y="193.1" font-family='"Liberation Sans", sans-serif' font-size="8.4" fill="#86b3de" text-anchor="start" font-weight="normal" >+IL-21 low</text>
<text x="131.1" y="193.1" font-family='"Liberation Sans", sans-serif' font-size="8.4" fill="#e3aa55" text-anchor="start" font-weight="normal" >+IL-21 High</text>
<line x1="42.5" y1="202.9" x2="496" y2="202.9" stroke="#111" stroke-width="1.6"/>
<path d="M492.6 198.4 L504.2 202.9 L492.6 207.5 L495.4 202.9 Z" fill="#000"/>
<g transform="translate(273.3,218.9) scale(0.72,1)"><text x="0" y="0" font-family='"Liberation Sans", sans-serif' font-size="8.9" fill="#111" text-anchor="middle" font-weight="bold">pSTAT3</text></g>
<text x="100.0" y="250.8" font-family='"Liberation Sans", sans-serif' font-size="9.9" fill="#111" text-anchor="middle" font-weight="normal" >Normal control</text>
<text x="34.4" y="379.3" font-family='"Liberation Sans", sans-serif' font-size="8.6" fill="#3a3a3a" text-anchor="end" font-weight="normal" >0</text>
<text x="34.4" y="356.5" font-family='"Liberation Sans", sans-serif' font-size="8.6" fill="#3a3a3a" text-anchor="end" font-weight="normal" >20</text>
<text x="34.4" y="333.70000000000005" font-family='"Liberation Sans", sans-serif' font-size="8.6" fill="#3a3a3a" text-anchor="end" font-weight="normal" >40</text>
<text x="34.4" y="310.90000000000003" font-family='"Liberation Sans", sans-serif' font-size="8.6" fill="#3a3a3a" text-anchor="end" font-weight="normal" >60</text>
<text x="34.4" y="288.1" font-family='"Liberation Sans", sans-serif' font-size="8.6" fill="#3a3a3a" text-anchor="end" font-weight="normal" >80</text>
<text x="34.4" y="265.3" font-family='"Liberation Sans", sans-serif' font-size="8.6" fill="#3a3a3a" text-anchor="end" font-weight="normal" >100</text>
<g transform="translate(13.600000000000001,318.2) rotate(-90) scale(0.685,1)"><text x="0" y="3.50" font-family='"Liberation Sans", sans-serif' font-size="10.0" fill="#111" text-anchor="middle" font-weight="normal" stroke="#111" stroke-width="0.35">Percent of Max</text></g>
<text x="274.2" y="250.8" font-family='"Liberation Sans", sans-serif' font-size="10.4" fill="#111" text-anchor="middle" font-weight="normal" >R2258</text>
<text x="205.8" y="379.3" font-family='"Liberation Sans", sans-serif' font-size="8.6" fill="#3a3a3a" text-anchor="end" font-weight="normal" >0</text>
<text x="205.8" y="356.5" font-family='"Liberation Sans", sans-serif' font-size="8.6" fill="#3a3a3a" text-anchor="end" font-weight="normal" >20</text>
<text x="205.8" y="333.70000000000005" font-family='"Liberation Sans", sans-serif' font-size="8.6" fill="#3a3a3a" text-anchor="end" font-weight="normal" >40</text>
<text x="205.8" y="310.90000000000003" font-family='"Liberation Sans", sans-serif' font-size="8.6" fill="#3a3a3a" text-anchor="end" font-weight="normal" >60</text>
<text x="205.8" y="288.1" font-family='"Liberation Sans", sans-serif' font-size="8.6" fill="#3a3a3a" text-anchor="end" font-weight="normal" >80</text>
<text x="205.8" y="265.3" font-family='"Liberation Sans", sans-serif' font-size="8.6" fill="#3a3a3a" text-anchor="end" font-weight="normal" >100</text>
<g transform="translate(185.20000000000002,318.2) rotate(-90) scale(0.685,1)"><text x="0" y="3.50" font-family='"Liberation Sans", sans-serif' font-size="10.0" fill="#111" text-anchor="middle" font-weight="normal" stroke="#111" stroke-width="0.35">Percent of Max</text></g>
<text x="447.9" y="250.8" font-family='"Liberation Sans", sans-serif' font-size="10.4" fill="#111" text-anchor="middle" font-weight="normal" >R2260</text>
<text x="379.2" y="379.3" font-family='"Liberation Sans", sans-serif' font-size="8.6" fill="#3a3a3a" text-anchor="end" font-weight="normal" >0</text>
<text x="379.2" y="356.5" font-family='"Liberation Sans", sans-serif' font-size="8.6" fill="#3a3a3a" text-anchor="end" font-weight="normal" >20</text>
<text x="379.2" y="333.70000000000005" font-family='"Liberation Sans", sans-serif' font-size="8.6" fill="#3a3a3a" text-anchor="end" font-weight="normal" >40</text>
<text x="379.2" y="310.90000000000003" font-family='"Liberation Sans", sans-serif' font-size="8.6" fill="#3a3a3a" text-anchor="end" font-weight="normal" >60</text>
<text x="379.2" y="288.1" font-family='"Liberation Sans", sans-serif' font-size="8.6" fill="#3a3a3a" text-anchor="end" font-weight="normal" >80</text>
<text x="379.2" y="265.3" font-family='"Liberation Sans", sans-serif' font-size="8.6" fill="#3a3a3a" text-anchor="end" font-weight="normal" >100</text>
<g transform="translate(357.6,318.2) rotate(-90) scale(0.685,1)"><text x="0" y="3.50" font-family='"Liberation Sans", sans-serif' font-size="10.0" fill="#111" text-anchor="middle" font-weight="normal" stroke="#111" stroke-width="0.35">Percent of Max</text></g>
<path d="M38.50 379.30 C45.42 379.27 70.58 379.20 80.00 379.10 C89.42 379.00 90.00 378.70 95.00 378.70 C100.00 378.70 103.17 379.03 110.00 379.10 C116.83 379.17 131.08 379.18 136.00 379.10 C140.92 379.02 138.57 378.78 139.50 378.60 C140.43 378.42 140.98 378.50 141.60 378.00 C142.22 377.50 142.80 376.80 143.20 375.60 C143.60 374.40 143.77 372.80 144.00 370.80 C144.23 368.80 144.40 366.40 144.60 363.60 C144.80 360.80 145.00 357.60 145.20 354.00 C145.40 350.40 145.60 346.00 145.80 342.00 C146.00 338.00 146.15 335.33 146.40 330.00 C146.65 324.67 147.00 317.50 147.30 310.00 C147.60 302.50 147.97 291.33 148.20 285.00 C148.43 278.67 148.53 275.58 148.70 272.00 C148.87 268.42 149.02 263.50 149.20 263.50 C149.38 263.50 149.62 268.42 149.80 272.00 C149.98 275.58 150.10 278.67 150.30 285.00 C150.50 291.33 150.82 302.50 151.00 310.00 C151.18 317.50 151.27 324.67 151.40 330.00 C151.53 335.33 151.63 338.00 151.80 342.00 C151.97 346.00 152.20 350.00 152.40 354.00 C152.60 358.00 152.80 363.00 153.00 366.00 C153.20 369.00 153.30 370.30 153.60 372.00 C153.90 373.70 154.30 375.20 154.80 376.20 C155.30 377.20 155.90 377.57 156.60 378.00 C157.30 378.43 158.27 378.60 159.00 378.80 C159.73 379.00 160.67 379.13 161.00 379.20 L161.00 379.60 L38.50 379.60 Z" fill="rgba(185,40,75,0.8)" stroke="none"/>
<path d="M38.50 379.30 C45.42 379.27 70.58 379.20 80.00 379.10 C89.42 379.00 90.00 378.70 95.00 378.70 C100.00 378.70 103.17 379.03 110.00 379.10 C116.83 379.17 131.08 379.18 136.00 379.10 C140.92 379.02 138.57 378.78 139.50 378.60 C140.43 378.42 140.98 378.50 141.60 378.00 C142.22 377.50 142.80 376.80 143.20 375.60 C143.60 374.40 143.77 372.80 144.00 370.80 C144.23 368.80 144.40 366.40 144.60 363.60 C144.80 360.80 145.00 357.60 145.20 354.00 C145.40 350.40 145.60 346.00 145.80 342.00 C146.00 338.00 146.15 335.33 146.40 330.00 C146.65 324.67 147.00 317.50 147.30 310.00 C147.60 302.50 147.97 291.33 148.20 285.00 C148.43 278.67 148.53 275.58 148.70 272.00 C148.87 268.42 149.02 263.50 149.20 263.50 C149.38 263.50 149.62 268.42 149.80 272.00 C149.98 275.58 150.10 278.67 150.30 285.00 C150.50 291.33 150.82 302.50 151.00 310.00 C151.18 317.50 151.27 324.67 151.40 330.00 C151.53 335.33 151.63 338.00 151.80 342.00 C151.97 346.00 152.20 350.00 152.40 354.00 C152.60 358.00 152.80 363.00 153.00 366.00 C153.20 369.00 153.30 370.30 153.60 372.00 C153.90 373.70 154.30 375.20 154.80 376.20 C155.30 377.20 155.90 377.57 156.60 378.00 C157.30 378.43 158.27 378.60 159.00 378.80 C159.73 379.00 160.67 379.13 161.00 379.20" fill="none" stroke="#8a1535" stroke-width="1.6" stroke-linejoin="round"/>
<path d="M39.00 379.30 C40.72 379.27 46.55 379.25 49.30 379.10 C52.05 378.95 53.45 378.82 55.50 378.40 C57.55 377.98 59.67 377.50 61.60 376.60 C63.53 375.70 65.42 374.50 67.10 373.00 C68.78 371.50 70.42 369.53 71.70 367.60 C72.98 365.67 73.95 363.72 74.80 361.40 C75.65 359.08 76.28 356.28 76.80 353.70 C77.32 351.12 77.47 349.00 77.90 345.90 C78.33 342.80 78.97 338.70 79.40 335.10 C79.83 331.50 80.17 327.65 80.50 324.30 C80.83 320.95 81.07 318.55 81.40 315.00 C81.73 311.45 82.07 307.50 82.50 303.00 C82.93 298.50 83.50 292.50 84.00 288.00 C84.50 283.50 85.00 279.42 85.50 276.00 C86.00 272.58 86.50 269.55 87.00 267.50 C87.50 265.45 88.00 263.70 88.50 263.70 C89.00 263.70 89.50 265.45 90.00 267.50 C90.50 269.55 91.00 272.58 91.50 276.00 C92.00 279.42 92.45 283.50 93.00 288.00 C93.55 292.50 94.22 298.50 94.80 303.00 C95.38 307.50 96.02 312.08 96.50 315.00 C96.98 317.92 97.20 319.28 97.70 320.50 C98.20 321.72 98.95 321.63 99.50 322.30 C100.05 322.97 100.55 322.97 101.00 324.50 C101.45 326.03 101.82 329.08 102.20 331.50 C102.58 333.92 103.00 337.33 103.30 339.00 C103.60 340.67 103.68 341.75 104.00 341.50 C104.32 341.25 104.75 338.92 105.20 337.50 C105.65 336.08 106.27 333.25 106.70 333.00 C107.13 332.75 107.37 333.75 107.80 336.00 C108.23 338.25 108.88 343.92 109.30 346.50 C109.72 349.08 109.88 351.75 110.30 351.50 C110.72 351.25 111.30 346.63 111.80 345.00 C112.30 343.37 112.85 341.45 113.30 341.70 C113.75 341.95 114.05 343.95 114.50 346.50 C114.95 349.05 115.57 354.83 116.00 357.00 C116.43 359.17 116.65 360.00 117.10 359.50 C117.55 359.00 118.25 355.28 118.70 354.00 C119.15 352.72 119.45 351.67 119.80 351.80 C120.15 351.93 120.38 353.18 120.80 354.80 C121.22 356.42 121.80 359.83 122.30 361.50 C122.80 363.17 123.35 364.80 123.80 364.80 C124.25 364.80 124.60 362.35 125.00 361.50 C125.40 360.65 125.75 359.45 126.20 359.70 C126.65 359.95 127.10 361.53 127.70 363.00 C128.30 364.47 129.12 367.87 129.80 368.50 C130.48 369.13 131.22 366.83 131.80 366.80 C132.38 366.77 132.68 367.23 133.30 368.30 C133.92 369.37 134.85 372.62 135.50 373.20 C136.15 373.78 136.68 372.12 137.20 371.80 C137.72 371.48 138.13 370.97 138.60 371.30 C139.07 371.63 139.38 373.45 140.00 373.80 C140.62 374.15 141.67 373.78 142.30 373.40 C142.93 373.02 143.22 372.33 143.80 371.50 C144.38 370.67 145.27 370.12 145.80 368.40 C146.33 366.68 146.50 363.40 147.00 361.20 C147.50 359.00 148.20 355.20 148.80 355.20 C149.40 355.20 150.10 358.80 150.60 361.20 C151.10 363.60 151.32 367.30 151.80 369.60 C152.28 371.90 152.80 373.60 153.50 375.00 C154.20 376.40 154.75 377.30 156.00 378.00 C157.25 378.70 160.17 379.00 161.00 379.20 L161.00 379.60 L39.00 379.60 Z" fill="rgba(128,183,232,0.65)" stroke="none"/>
<path d="M39.00 379.30 C40.72 379.27 46.55 379.25 49.30 379.10 C52.05 378.95 53.45 378.82 55.50 378.40 C57.55 377.98 59.67 377.50 61.60 376.60 C63.53 375.70 65.42 374.50 67.10 373.00 C68.78 371.50 70.42 369.53 71.70 367.60 C72.98 365.67 73.95 363.72 74.80 361.40 C75.65 359.08 76.28 356.28 76.80 353.70 C77.32 351.12 77.47 349.00 77.90 345.90 C78.33 342.80 78.97 338.70 79.40 335.10 C79.83 331.50 80.17 327.65 80.50 324.30 C80.83 320.95 81.07 318.55 81.40 315.00 C81.73 311.45 82.07 307.50 82.50 303.00 C82.93 298.50 83.50 292.50 84.00 288.00 C84.50 283.50 85.00 279.42 85.50 276.00 C86.00 272.58 86.50 269.55 87.00 267.50 C87.50 265.45 88.00 263.70 88.50 263.70 C89.00 263.70 89.50 265.45 90.00 267.50 C90.50 269.55 91.00 272.58 91.50 276.00 C92.00 279.42 92.45 283.50 93.00 288.00 C93.55 292.50 94.22 298.50 94.80 303.00 C95.38 307.50 96.02 312.08 96.50 315.00 C96.98 317.92 97.20 319.28 97.70 320.50 C98.20 321.72 98.95 321.63 99.50 322.30 C100.05 322.97 100.55 322.97 101.00 324.50 C101.45 326.03 101.82 329.08 102.20 331.50 C102.58 333.92 103.00 337.33 103.30 339.00 C103.60 340.67 103.68 341.75 104.00 341.50 C104.32 341.25 104.75 338.92 105.20 337.50 C105.65 336.08 106.27 333.25 106.70 333.00 C107.13 332.75 107.37 333.75 107.80 336.00 C108.23 338.25 108.88 343.92 109.30 346.50 C109.72 349.08 109.88 351.75 110.30 351.50 C110.72 351.25 111.30 346.63 111.80 345.00 C112.30 343.37 112.85 341.45 113.30 341.70 C113.75 341.95 114.05 343.95 114.50 346.50 C114.95 349.05 115.57 354.83 116.00 357.00 C116.43 359.17 116.65 360.00 117.10 359.50 C117.55 359.00 118.25 355.28 118.70 354.00 C119.15 352.72 119.45 351.67 119.80 351.80 C120.15 351.93 120.38 353.18 120.80 354.80 C121.22 356.42 121.80 359.83 122.30 361.50 C122.80 363.17 123.35 364.80 123.80 364.80 C124.25 364.80 124.60 362.35 125.00 361.50 C125.40 360.65 125.75 359.45 126.20 359.70 C126.65 359.95 127.10 361.53 127.70 363.00 C128.30 364.47 129.12 367.87 129.80 368.50 C130.48 369.13 131.22 366.83 131.80 366.80 C132.38 366.77 132.68 367.23 133.30 368.30 C133.92 369.37 134.85 372.62 135.50 373.20 C136.15 373.78 136.68 372.12 137.20 371.80 C137.72 371.48 138.13 370.97 138.60 371.30 C139.07 371.63 139.38 373.45 140.00 373.80 C140.62 374.15 141.67 373.78 142.30 373.40 C142.93 373.02 143.22 372.33 143.80 371.50 C144.38 370.67 145.27 370.12 145.80 368.40 C146.33 366.68 146.50 363.40 147.00 361.20 C147.50 359.00 148.20 355.20 148.80 355.20 C149.40 355.20 150.10 358.80 150.60 361.20 C151.10 363.60 151.32 367.30 151.80 369.60 C152.28 371.90 152.80 373.60 153.50 375.00 C154.20 376.40 154.75 377.30 156.00 378.00 C157.25 378.70 160.17 379.00 161.00 379.20" fill="none" stroke="#6f9bcd" stroke-width="1.45" stroke-linejoin="round"/>
<clipPath id="c1"><rect x="140" y="200" width="22" height="172"/></clipPath>
<path d="M38.50 379.30 C45.42 379.27 70.58 379.20 80.00 379.10 C89.42 379.00 90.00 378.70 95.00 378.70 C100.00 378.70 103.17 379.03 110.00 379.10 C116.83 379.17 131.08 379.18 136.00 379.10 C140.92 379.02 138.57 378.78 139.50 378.60 C140.43 378.42 140.98 378.50 141.60 378.00 C142.22 377.50 142.80 376.80 143.20 375.60 C143.60 374.40 143.77 372.80 144.00 370.80 C144.23 368.80 144.40 366.40 144.60 363.60 C144.80 360.80 145.00 357.60 145.20 354.00 C145.40 350.40 145.60 346.00 145.80 342.00 C146.00 338.00 146.15 335.33 146.40 330.00 C146.65 324.67 147.00 317.50 147.30 310.00 C147.60 302.50 147.97 291.33 148.20 285.00 C148.43 278.67 148.53 275.58 148.70 272.00 C148.87 268.42 149.02 263.50 149.20 263.50 C149.38 263.50 149.62 268.42 149.80 272.00 C149.98 275.58 150.10 278.67 150.30 285.00 C150.50 291.33 150.82 302.50 151.00 310.00 C151.18 317.50 151.27 324.67 151.40 330.00 C151.53 335.33 151.63 338.00 151.80 342.00 C151.97 346.00 152.20 350.00 152.40 354.00 C152.60 358.00 152.80 363.00 153.00 366.00 C153.20 369.00 153.30 370.30 153.60 372.00 C153.90 373.70 154.30 375.20 154.80 376.20 C155.30 377.20 155.90 377.57 156.60 378.00 C157.30 378.43 158.27 378.60 159.00 378.80 C159.73 379.00 160.67 379.13 161.00 379.20" fill="none" stroke="#8a1535" stroke-width="1.6" stroke-linejoin="round" clip-path="url(#c1)"/>
<path d="M210.50 380.20 C217.42 380.17 244.42 380.17 252.00 380.00 C259.58 379.83 254.67 379.48 256.00 379.20 C257.33 378.92 258.42 378.55 260.00 378.30 C261.58 378.05 263.83 377.67 265.50 377.70 C267.17 377.73 268.58 378.15 270.00 378.50 C271.42 378.85 267.67 379.55 274.00 379.80 C280.33 380.05 301.67 380.05 308.00 380.00 C314.33 379.95 310.82 379.72 312.00 379.50 C313.18 379.28 314.10 379.30 315.10 378.70 C316.10 378.10 317.17 377.33 318.00 375.90 C318.83 374.47 319.57 373.08 320.10 370.10 C320.63 367.12 320.88 361.57 321.20 358.00 C321.52 354.43 321.80 354.25 322.00 348.70 C322.20 343.15 322.23 331.48 322.40 324.70 C322.57 317.92 322.80 313.57 323.00 308.00 C323.20 302.43 323.37 296.85 323.60 291.30 C323.83 285.75 324.17 279.05 324.40 274.70 C324.63 270.35 324.75 265.20 325.00 265.20 C325.25 265.20 325.67 270.35 325.90 274.70 C326.13 279.05 326.23 285.75 326.40 291.30 C326.57 296.85 326.75 302.43 326.90 308.00 C327.05 313.57 327.17 317.92 327.30 324.70 C327.43 331.48 327.47 341.60 327.70 348.70 C327.93 355.80 328.22 362.88 328.70 367.30 C329.18 371.72 329.88 373.42 330.60 375.20 C331.32 376.98 331.93 377.20 333.00 378.00 C334.07 378.80 336.33 379.67 337.00 380.00 L337.00 380.40 L210.50 380.40 Z" fill="rgba(185,40,75,0.8)" stroke="none"/>
<path d="M210.50 380.20 C217.42 380.17 244.42 380.17 252.00 380.00 C259.58 379.83 254.67 379.48 256.00 379.20 C257.33 378.92 258.42 378.55 260.00 378.30 C261.58 378.05 263.83 377.67 265.50 377.70 C267.17 377.73 268.58 378.15 270.00 378.50 C271.42 378.85 267.67 379.55 274.00 379.80 C280.33 380.05 301.67 380.05 308.00 380.00 C314.33 379.95 310.82 379.72 312.00 379.50 C313.18 379.28 314.10 379.30 315.10 378.70 C316.10 378.10 317.17 377.33 318.00 375.90 C318.83 374.47 319.57 373.08 320.10 370.10 C320.63 367.12 320.88 361.57 321.20 358.00 C321.52 354.43 321.80 354.25 322.00 348.70 C322.20 343.15 322.23 331.48 322.40 324.70 C322.57 317.92 322.80 313.57 323.00 308.00 C323.20 302.43 323.37 296.85 323.60 291.30 C323.83 285.75 324.17 279.05 324.40 274.70 C324.63 270.35 324.75 265.20 325.00 265.20 C325.25 265.20 325.67 270.35 325.90 274.70 C326.13 279.05 326.23 285.75 326.40 291.30 C326.57 296.85 326.75 302.43 326.90 308.00 C327.05 313.57 327.17 317.92 327.30 324.70 C327.43 331.48 327.47 341.60 327.70 348.70 C327.93 355.80 328.22 362.88 328.70 367.30 C329.18 371.72 329.88 373.42 330.60 375.20 C331.32 376.98 331.93 377.20 333.00 378.00 C334.07 378.80 336.33 379.67 337.00 380.00" fill="none" stroke="#8a1535" stroke-width="1.6" stroke-linejoin="round"/>
<path d="M211.00 380.20 C215.83 380.17 234.13 380.17 240.00 380.00 C245.87 379.83 244.52 379.72 246.20 379.20 C247.88 378.68 248.93 378.05 250.10 376.90 C251.27 375.75 252.30 374.37 253.20 372.30 C254.10 370.23 254.87 367.60 255.50 364.50 C256.13 361.40 256.40 357.82 257.00 353.70 C257.60 349.58 258.53 344.18 259.10 339.80 C259.67 335.42 259.98 331.53 260.40 327.40 C260.82 323.27 261.18 319.07 261.60 315.00 C262.02 310.93 262.53 307.00 262.90 303.00 C263.27 299.00 263.62 294.75 263.80 291.00 C263.98 287.25 263.83 283.50 264.00 280.50 C264.17 277.50 264.42 274.92 264.80 273.00 C265.18 271.08 265.85 270.45 266.30 269.00 C266.75 267.55 267.13 264.38 267.50 264.30 C267.87 264.22 268.20 266.38 268.50 268.50 C268.80 270.62 268.95 275.00 269.30 277.00 C269.65 279.00 270.23 278.67 270.60 280.50 C270.97 282.33 271.15 284.25 271.50 288.00 C271.85 291.75 272.40 298.50 272.70 303.00 C273.00 307.50 273.02 311.97 273.30 315.00 C273.58 318.03 273.88 319.65 274.40 321.20 C274.92 322.75 275.82 322.50 276.40 324.30 C276.98 326.10 277.38 329.17 277.90 332.00 C278.42 334.83 279.05 339.22 279.50 341.30 C279.95 343.38 280.08 344.75 280.60 344.50 C281.12 344.25 282.02 339.55 282.60 339.80 C283.18 340.05 283.52 343.50 284.10 346.00 C284.68 348.50 285.47 354.60 286.10 354.80 C286.73 355.00 287.37 348.62 287.90 347.20 C288.43 345.78 288.83 345.83 289.30 346.30 C289.77 346.77 290.22 348.45 290.70 350.00 C291.18 351.55 291.72 355.35 292.20 355.60 C292.68 355.85 293.08 352.77 293.60 351.50 C294.12 350.23 294.70 347.75 295.30 348.00 C295.90 348.25 296.58 351.50 297.20 353.00 C297.82 354.50 298.40 357.00 299.00 357.00 C299.60 357.00 300.15 354.17 300.80 353.00 C301.45 351.83 302.32 350.00 302.90 350.00 C303.48 350.00 303.75 351.47 304.30 353.00 C304.85 354.53 305.60 358.73 306.20 359.20 C306.80 359.67 307.37 356.48 307.90 355.80 C308.43 355.12 308.92 354.62 309.40 355.10 C309.88 355.58 310.28 357.30 310.80 358.70 C311.32 360.10 311.90 363.38 312.50 363.50 C313.10 363.62 313.85 360.45 314.40 359.40 C314.95 358.35 315.33 356.85 315.80 357.20 C316.27 357.55 316.65 359.78 317.20 361.50 C317.75 363.22 318.62 367.08 319.10 367.50 C319.58 367.92 319.82 365.75 320.10 364.00 C320.38 362.25 320.60 359.67 320.80 357.00 C321.00 354.33 321.13 351.33 321.30 348.00 C321.47 344.67 321.62 340.33 321.80 337.00 C321.98 333.67 322.17 330.58 322.40 328.00 C322.63 325.42 322.93 322.90 323.20 321.50 C323.47 320.10 323.73 319.60 324.00 319.60 C324.27 319.60 324.53 320.10 324.80 321.50 C325.07 322.90 325.35 325.42 325.60 328.00 C325.85 330.58 326.07 333.67 326.30 337.00 C326.53 340.33 326.75 344.17 327.00 348.00 C327.25 351.83 327.50 356.50 327.80 360.00 C328.10 363.50 328.40 366.50 328.80 369.00 C329.20 371.50 329.58 373.42 330.20 375.00 C330.82 376.58 331.37 377.65 332.50 378.50 C333.63 379.35 336.25 379.83 337.00 380.10 L337.00 380.40 L211.00 380.40 Z" fill="rgba(128,183,232,0.65)" stroke="none"/>
<path d="M211.00 380.20 C215.83 380.17 234.13 380.17 240.00 380.00 C245.87 379.83 244.52 379.72 246.20 379.20 C247.88 378.68 248.93 378.05 250.10 376.90 C251.27 375.75 252.30 374.37 253.20 372.30 C254.10 370.23 254.87 367.60 255.50 364.50 C256.13 361.40 256.40 357.82 257.00 353.70 C257.60 349.58 258.53 344.18 259.10 339.80 C259.67 335.42 259.98 331.53 260.40 327.40 C260.82 323.27 261.18 319.07 261.60 315.00 C262.02 310.93 262.53 307.00 262.90 303.00 C263.27 299.00 263.62 294.75 263.80 291.00 C263.98 287.25 263.83 283.50 264.00 280.50 C264.17 277.50 264.42 274.92 264.80 273.00 C265.18 271.08 265.85 270.45 266.30 269.00 C266.75 267.55 267.13 264.38 267.50 264.30 C267.87 264.22 268.20 266.38 268.50 268.50 C268.80 270.62 268.95 275.00 269.30 277.00 C269.65 279.00 270.23 278.67 270.60 280.50 C270.97 282.33 271.15 284.25 271.50 288.00 C271.85 291.75 272.40 298.50 272.70 303.00 C273.00 307.50 273.02 311.97 273.30 315.00 C273.58 318.03 273.88 319.65 274.40 321.20 C274.92 322.75 275.82 322.50 276.40 324.30 C276.98 326.10 277.38 329.17 277.90 332.00 C278.42 334.83 279.05 339.22 279.50 341.30 C279.95 343.38 280.08 344.75 280.60 344.50 C281.12 344.25 282.02 339.55 282.60 339.80 C283.18 340.05 283.52 343.50 284.10 346.00 C284.68 348.50 285.47 354.60 286.10 354.80 C286.73 355.00 287.37 348.62 287.90 347.20 C288.43 345.78 288.83 345.83 289.30 346.30 C289.77 346.77 290.22 348.45 290.70 350.00 C291.18 351.55 291.72 355.35 292.20 355.60 C292.68 355.85 293.08 352.77 293.60 351.50 C294.12 350.23 294.70 347.75 295.30 348.00 C295.90 348.25 296.58 351.50 297.20 353.00 C297.82 354.50 298.40 357.00 299.00 357.00 C299.60 357.00 300.15 354.17 300.80 353.00 C301.45 351.83 302.32 350.00 302.90 350.00 C303.48 350.00 303.75 351.47 304.30 353.00 C304.85 354.53 305.60 358.73 306.20 359.20 C306.80 359.67 307.37 356.48 307.90 355.80 C308.43 355.12 308.92 354.62 309.40 355.10 C309.88 355.58 310.28 357.30 310.80 358.70 C311.32 360.10 311.90 363.38 312.50 363.50 C313.10 363.62 313.85 360.45 314.40 359.40 C314.95 358.35 315.33 356.85 315.80 357.20 C316.27 357.55 316.65 359.78 317.20 361.50 C317.75 363.22 318.62 367.08 319.10 367.50 C319.58 367.92 319.82 365.75 320.10 364.00 C320.38 362.25 320.60 359.67 320.80 357.00 C321.00 354.33 321.13 351.33 321.30 348.00 C321.47 344.67 321.62 340.33 321.80 337.00 C321.98 333.67 322.17 330.58 322.40 328.00 C322.63 325.42 322.93 322.90 323.20 321.50 C323.47 320.10 323.73 319.60 324.00 319.60 C324.27 319.60 324.53 320.10 324.80 321.50 C325.07 322.90 325.35 325.42 325.60 328.00 C325.85 330.58 326.07 333.67 326.30 337.00 C326.53 340.33 326.75 344.17 327.00 348.00 C327.25 351.83 327.50 356.50 327.80 360.00 C328.10 363.50 328.40 366.50 328.80 369.00 C329.20 371.50 329.58 373.42 330.20 375.00 C330.82 376.58 331.37 377.65 332.50 378.50 C333.63 379.35 336.25 379.83 337.00 380.10" fill="none" stroke="#6f9bcd" stroke-width="1.45" stroke-linejoin="round"/>
<clipPath id="c2"><rect x="315" y="200" width="23" height="160"/></clipPath>
<path d="M210.50 380.20 C217.42 380.17 244.42 380.17 252.00 380.00 C259.58 379.83 254.67 379.48 256.00 379.20 C257.33 378.92 258.42 378.55 260.00 378.30 C261.58 378.05 263.83 377.67 265.50 377.70 C267.17 377.73 268.58 378.15 270.00 378.50 C271.42 378.85 267.67 379.55 274.00 379.80 C280.33 380.05 301.67 380.05 308.00 380.00 C314.33 379.95 310.82 379.72 312.00 379.50 C313.18 379.28 314.10 379.30 315.10 378.70 C316.10 378.10 317.17 377.33 318.00 375.90 C318.83 374.47 319.57 373.08 320.10 370.10 C320.63 367.12 320.88 361.57 321.20 358.00 C321.52 354.43 321.80 354.25 322.00 348.70 C322.20 343.15 322.23 331.48 322.40 324.70 C322.57 317.92 322.80 313.57 323.00 308.00 C323.20 302.43 323.37 296.85 323.60 291.30 C323.83 285.75 324.17 279.05 324.40 274.70 C324.63 270.35 324.75 265.20 325.00 265.20 C325.25 265.20 325.67 270.35 325.90 274.70 C326.13 279.05 326.23 285.75 326.40 291.30 C326.57 296.85 326.75 302.43 326.90 308.00 C327.05 313.57 327.17 317.92 327.30 324.70 C327.43 331.48 327.47 341.60 327.70 348.70 C327.93 355.80 328.22 362.88 328.70 367.30 C329.18 371.72 329.88 373.42 330.60 375.20 C331.32 376.98 331.93 377.20 333.00 378.00 C334.07 378.80 336.33 379.67 337.00 380.00" fill="none" stroke="#8a1535" stroke-width="1.6" stroke-linejoin="round" clip-path="url(#c2)"/>
<path d="M383.50 381.00 C389.25 380.97 411.23 380.90 418.00 380.80 C424.77 380.70 422.25 381.30 424.10 380.40 C425.95 379.50 427.60 376.90 429.10 375.40 C430.60 373.90 431.93 372.42 433.10 371.40 C434.27 370.38 435.10 369.48 436.10 369.30 C437.10 369.12 438.10 369.62 439.10 370.30 C440.10 370.98 440.93 372.22 442.10 373.40 C443.27 374.58 444.42 376.33 446.10 377.40 C447.78 378.47 449.88 379.27 452.20 379.80 C454.52 380.33 456.37 380.47 460.00 380.60 C463.63 380.73 470.83 380.67 474.00 380.60 C477.17 380.53 477.50 380.38 479.00 380.20 C480.50 380.02 481.75 379.82 483.00 379.50 C484.25 379.18 485.45 378.83 486.50 378.30 C487.55 377.77 488.45 377.18 489.30 376.30 C490.15 375.42 490.95 374.55 491.60 373.00 C492.25 371.45 492.77 369.50 493.20 367.00 C493.63 364.50 493.88 361.73 494.20 358.00 C494.52 354.27 494.77 351.57 495.10 344.60 C495.43 337.63 495.85 323.70 496.20 316.20 C496.55 308.70 496.90 304.68 497.20 299.60 C497.50 294.52 497.70 290.32 498.00 285.70 C498.30 281.08 498.67 275.37 499.00 271.90 C499.33 268.43 499.65 264.90 500.00 264.90 C500.35 264.90 500.73 268.43 501.10 271.90 C501.47 275.37 501.85 281.08 502.20 285.70 C502.55 290.32 502.88 294.52 503.20 299.60 C503.52 304.68 503.75 308.70 504.10 316.20 C504.45 323.70 504.87 336.98 505.30 344.60 C505.73 352.22 506.17 357.58 506.70 361.90 C507.23 366.22 507.95 368.32 508.50 370.50 C509.05 372.68 509.42 373.67 510.00 375.00 C510.58 376.33 511.67 377.92 512.00 378.50 L512.00 381.40 L383.50 381.40 Z" fill="rgba(185,40,75,0.8)" stroke="none"/>
<path d="M383.50 381.00 C389.25 380.97 411.23 380.90 418.00 380.80 C424.77 380.70 422.25 381.30 424.10 380.40 C425.95 379.50 427.60 376.90 429.10 375.40 C430.60 373.90 431.93 372.42 433.10 371.40 C434.27 370.38 435.10 369.48 436.10 369.30 C437.10 369.12 438.10 369.62 439.10 370.30 C440.10 370.98 440.93 372.22 442.10 373.40 C443.27 374.58 444.42 376.33 446.10 377.40 C447.78 378.47 449.88 379.27 452.20 379.80 C454.52 380.33 456.37 380.47 460.00 380.60 C463.63 380.73 470.83 380.67 474.00 380.60 C477.17 380.53 477.50 380.38 479.00 380.20 C480.50 380.02 481.75 379.82 483.00 379.50 C484.25 379.18 485.45 378.83 486.50 378.30 C487.55 377.77 488.45 377.18 489.30 376.30 C490.15 375.42 490.95 374.55 491.60 373.00 C492.25 371.45 492.77 369.50 493.20 367.00 C493.63 364.50 493.88 361.73 494.20 358.00 C494.52 354.27 494.77 351.57 495.10 344.60 C495.43 337.63 495.85 323.70 496.20 316.20 C496.55 308.70 496.90 304.68 497.20 299.60 C497.50 294.52 497.70 290.32 498.00 285.70 C498.30 281.08 498.67 275.37 499.00 271.90 C499.33 268.43 499.65 264.90 500.00 264.90 C500.35 264.90 500.73 268.43 501.10 271.90 C501.47 275.37 501.85 281.08 502.20 285.70 C502.55 290.32 502.88 294.52 503.20 299.60 C503.52 304.68 503.75 308.70 504.10 316.20 C504.45 323.70 504.87 336.98 505.30 344.60 C505.73 352.22 506.17 357.58 506.70 361.90 C507.23 366.22 507.95 368.32 508.50 370.50 C509.05 372.68 509.42 373.67 510.00 375.00 C510.58 376.33 511.67 377.92 512.00 378.50" fill="none" stroke="#8a1535" stroke-width="1.6" stroke-linejoin="round"/>
<path d="M384.00 381.00 C387.50 380.97 400.67 380.90 405.00 380.80 C409.33 380.70 408.17 380.63 410.00 380.40 C411.83 380.17 414.00 380.07 416.00 379.40 C418.00 378.73 420.32 377.57 422.00 376.40 C423.68 375.23 424.92 374.25 426.10 372.40 C427.28 370.55 428.27 368.15 429.10 365.30 C429.93 362.45 430.35 358.98 431.10 355.30 C431.85 351.62 432.83 347.22 433.60 343.20 C434.37 339.18 435.20 334.55 435.70 331.20 C436.20 327.85 436.20 325.78 436.60 323.10 C437.00 320.42 437.52 317.27 438.10 315.10 C438.68 312.93 439.60 311.27 440.10 310.10 C440.60 308.93 440.70 307.77 441.10 308.10 C441.50 308.43 442.00 309.93 442.50 312.10 C443.00 314.27 443.63 318.42 444.10 321.10 C444.57 323.78 444.87 325.35 445.30 328.20 C445.73 331.05 446.05 334.35 446.70 338.20 C447.35 342.05 448.45 348.28 449.20 351.30 C449.95 354.32 450.58 355.12 451.20 356.30 C451.82 357.48 452.22 357.40 452.90 358.40 C453.58 359.40 454.57 361.48 455.30 362.30 C456.03 363.12 456.65 362.97 457.30 363.30 C457.95 363.63 458.47 363.48 459.20 364.30 C459.93 365.12 460.97 367.80 461.70 368.20 C462.43 368.60 462.97 367.03 463.60 366.70 C464.23 366.37 464.93 365.88 465.50 366.20 C466.07 366.52 466.43 367.78 467.00 368.60 C467.57 369.42 468.10 371.25 468.90 371.10 C469.70 370.95 470.75 367.55 471.80 367.70 C472.85 367.85 474.07 372.08 475.20 372.00 C476.33 371.92 477.53 367.35 478.60 367.20 C479.67 367.05 480.53 371.43 481.60 371.10 C482.67 370.77 483.88 365.37 485.00 365.20 C486.12 365.03 487.25 370.67 488.30 370.10 C489.35 369.53 490.57 363.33 491.30 361.80 C492.03 360.27 492.25 361.87 492.70 360.90 C493.15 359.93 493.60 358.72 494.00 356.00 C494.40 353.28 494.70 351.27 495.10 344.60 C495.50 337.93 496.00 324.77 496.40 316.00 C496.80 307.23 497.15 297.83 497.50 292.00 C497.85 286.17 498.20 283.42 498.50 281.00 C498.80 278.58 499.03 277.50 499.30 277.50 C499.57 277.50 499.83 278.58 500.10 281.00 C500.37 283.42 500.60 286.17 500.90 292.00 C501.20 297.83 501.52 307.33 501.90 316.00 C502.28 324.67 502.63 336.33 503.20 344.00 C503.77 351.67 504.58 357.50 505.30 362.00 C506.02 366.50 506.80 368.67 507.50 371.00 C508.20 373.33 508.75 374.63 509.50 376.00 C510.25 377.37 511.58 378.67 512.00 379.20 L512.00 381.40 L384.00 381.40 Z" fill="rgba(128,183,232,0.65)" stroke="none"/>
<path d="M384.00 381.00 C387.50 380.97 400.67 380.90 405.00 380.80 C409.33 380.70 408.17 380.63 410.00 380.40 C411.83 380.17 414.00 380.07 416.00 379.40 C418.00 378.73 420.32 377.57 422.00 376.40 C423.68 375.23 424.92 374.25 426.10 372.40 C427.28 370.55 428.27 368.15 429.10 365.30 C429.93 362.45 430.35 358.98 431.10 355.30 C431.85 351.62 432.83 347.22 433.60 343.20 C434.37 339.18 435.20 334.55 435.70 331.20 C436.20 327.85 436.20 325.78 436.60 323.10 C437.00 320.42 437.52 317.27 438.10 315.10 C438.68 312.93 439.60 311.27 440.10 310.10 C440.60 308.93 440.70 307.77 441.10 308.10 C441.50 308.43 442.00 309.93 442.50 312.10 C443.00 314.27 443.63 318.42 444.10 321.10 C444.57 323.78 444.87 325.35 445.30 328.20 C445.73 331.05 446.05 334.35 446.70 338.20 C447.35 342.05 448.45 348.28 449.20 351.30 C449.95 354.32 450.58 355.12 451.20 356.30 C451.82 357.48 452.22 357.40 452.90 358.40 C453.58 359.40 454.57 361.48 455.30 362.30 C456.03 363.12 456.65 362.97 457.30 363.30 C457.95 363.63 458.47 363.48 459.20 364.30 C459.93 365.12 460.97 367.80 461.70 368.20 C462.43 368.60 462.97 367.03 463.60 366.70 C464.23 366.37 464.93 365.88 465.50 366.20 C466.07 366.52 466.43 367.78 467.00 368.60 C467.57 369.42 468.10 371.25 468.90 371.10 C469.70 370.95 470.75 367.55 471.80 367.70 C472.85 367.85 474.07 372.08 475.20 372.00 C476.33 371.92 477.53 367.35 478.60 367.20 C479.67 367.05 480.53 371.43 481.60 371.10 C482.67 370.77 483.88 365.37 485.00 365.20 C486.12 365.03 487.25 370.67 488.30 370.10 C489.35 369.53 490.57 363.33 491.30 361.80 C492.03 360.27 492.25 361.87 492.70 360.90 C493.15 359.93 493.60 358.72 494.00 356.00 C494.40 353.28 494.70 351.27 495.10 344.60 C495.50 337.93 496.00 324.77 496.40 316.00 C496.80 307.23 497.15 297.83 497.50 292.00 C497.85 286.17 498.20 283.42 498.50 281.00 C498.80 278.58 499.03 277.50 499.30 277.50 C499.57 277.50 499.83 278.58 500.10 281.00 C500.37 283.42 500.60 286.17 500.90 292.00 C501.20 297.83 501.52 307.33 501.90 316.00 C502.28 324.67 502.63 336.33 503.20 344.00 C503.77 351.67 504.58 357.50 505.30 362.00 C506.02 366.50 506.80 368.67 507.50 371.00 C508.20 373.33 508.75 374.63 509.50 376.00 C510.25 377.37 511.58 378.67 512.00 379.20" fill="none" stroke="#6f9bcd" stroke-width="1.45" stroke-linejoin="round"/>
<rect x="38" y="256.7" width="123.50" height="122.90" fill="none" stroke="#0d0d14" stroke-width="1.6"/>
<rect x="209.8" y="256.9" width="128.00" height="123.50" fill="none" stroke="#0d0d14" stroke-width="1.6"/>
<rect x="383.0" y="256.5" width="129.50" height="124.90" fill="none" stroke="#0d0d14" stroke-width="1.6"/>
<path d="M28.30 401.40 C28.68 401.13 29.90 400.35 30.60 399.80 C31.30 399.25 31.97 398.72 32.50 398.10 C33.03 397.48 33.42 396.90 33.80 396.10 C34.18 395.30 34.52 394.15 34.80 393.30 C35.08 392.45 35.25 391.77 35.50 391.00 C35.75 390.23 36.00 389.25 36.30 388.70 C36.60 388.15 36.95 387.70 37.30 387.70 C37.65 387.70 38.08 388.15 38.40 388.70 C38.72 389.25 38.97 390.18 39.20 391.00 C39.43 391.82 39.57 392.75 39.80 393.60 C40.03 394.45 40.25 395.35 40.60 396.10 C40.95 396.85 41.30 397.48 41.90 398.10 C42.50 398.72 43.35 399.25 44.20 399.80 C45.05 400.35 46.53 401.13 47.00 401.40 Z" fill="#da6b86" stroke="none"/>
<path d="M28.30 401.40 C28.68 401.13 29.90 400.35 30.60 399.80 C31.30 399.25 31.97 398.72 32.50 398.10 C33.03 397.48 33.42 396.90 33.80 396.10 C34.18 395.30 34.52 394.15 34.80 393.30 C35.08 392.45 35.25 391.77 35.50 391.00 C35.75 390.23 36.00 389.25 36.30 388.70 C36.60 388.15 36.95 387.70 37.30 387.70 C37.65 387.70 38.08 388.15 38.40 388.70 C38.72 389.25 38.97 390.18 39.20 391.00 C39.43 391.82 39.57 392.75 39.80 393.60 C40.03 394.45 40.25 395.35 40.60 396.10 C40.95 396.85 41.30 397.48 41.90 398.10 C42.50 398.72 43.35 399.25 44.20 399.80 C45.05 400.35 46.53 401.13 47.00 401.40" fill="none" stroke="#7e1232" stroke-width="1.3" stroke-linecap="round"/>
<path d="M156.20 401.40 C156.58 401.13 157.80 400.38 158.50 399.80 C159.20 399.22 159.90 398.60 160.40 397.90 C160.90 397.20 161.15 396.52 161.50 395.60 C161.85 394.68 162.18 393.40 162.50 392.40 C162.82 391.40 163.12 390.33 163.40 389.60 C163.68 388.87 163.93 388.35 164.20 388.00 C164.47 387.65 164.73 387.50 165.00 387.50 C165.27 387.50 165.53 387.65 165.80 388.00 C166.07 388.35 166.32 388.87 166.60 389.60 C166.88 390.33 167.18 391.40 167.50 392.40 C167.82 393.40 168.15 394.68 168.50 395.60 C168.85 396.52 169.07 397.20 169.60 397.90 C170.13 398.60 170.88 399.22 171.70 399.80 C172.52 400.38 174.03 401.13 174.50 401.40 Z" fill="#a9cdef" stroke="none"/>
<path d="M156.20 401.40 C156.58 401.13 157.80 400.38 158.50 399.80 C159.20 399.22 159.90 398.60 160.40 397.90 C160.90 397.20 161.15 396.52 161.50 395.60 C161.85 394.68 162.18 393.40 162.50 392.40 C162.82 391.40 163.12 390.33 163.40 389.60 C163.68 388.87 163.93 388.35 164.20 388.00 C164.47 387.65 164.73 387.50 165.00 387.50 C165.27 387.50 165.53 387.65 165.80 388.00 C166.07 388.35 166.32 388.87 166.60 389.60 C166.88 390.33 167.18 391.40 167.50 392.40 C167.82 393.40 168.15 394.68 168.50 395.60 C168.85 396.52 169.07 397.20 169.60 397.90 C170.13 398.60 170.88 399.22 171.70 399.80 C172.52 400.38 174.03 401.13 174.50 401.40" fill="none" stroke="#6a9dd2" stroke-width="1.3" stroke-linecap="round"/>
<text x="50.6" y="397.3" font-family='"Liberation Sans", sans-serif' font-size="7.6" fill="#222" text-anchor="start" font-weight="normal" >Unstimulated (-PHA)</text>
<text x="178.5" y="396.6" font-family='"Liberation Sans", sans-serif' font-size="7.7" fill="#222" text-anchor="start" font-weight="normal" >Stimulated (+PHA)</text>
<line x1="42.8" y1="407.0" x2="496" y2="407.0" stroke="#111" stroke-width="1.6"/>
<path d="M492.6 402.5 L503.9 407.0 L492.6 411.5 L495.4 407.0 Z" fill="#000"/>
<g transform="translate(273.1,423.5) scale(0.7,1)"><text x="0" y="0" font-family='"Liberation Sans", sans-serif' font-size="9.5" fill="#111" text-anchor="middle" font-weight="bold">Cell tracker</text></g>
</svg>
</body></html>
